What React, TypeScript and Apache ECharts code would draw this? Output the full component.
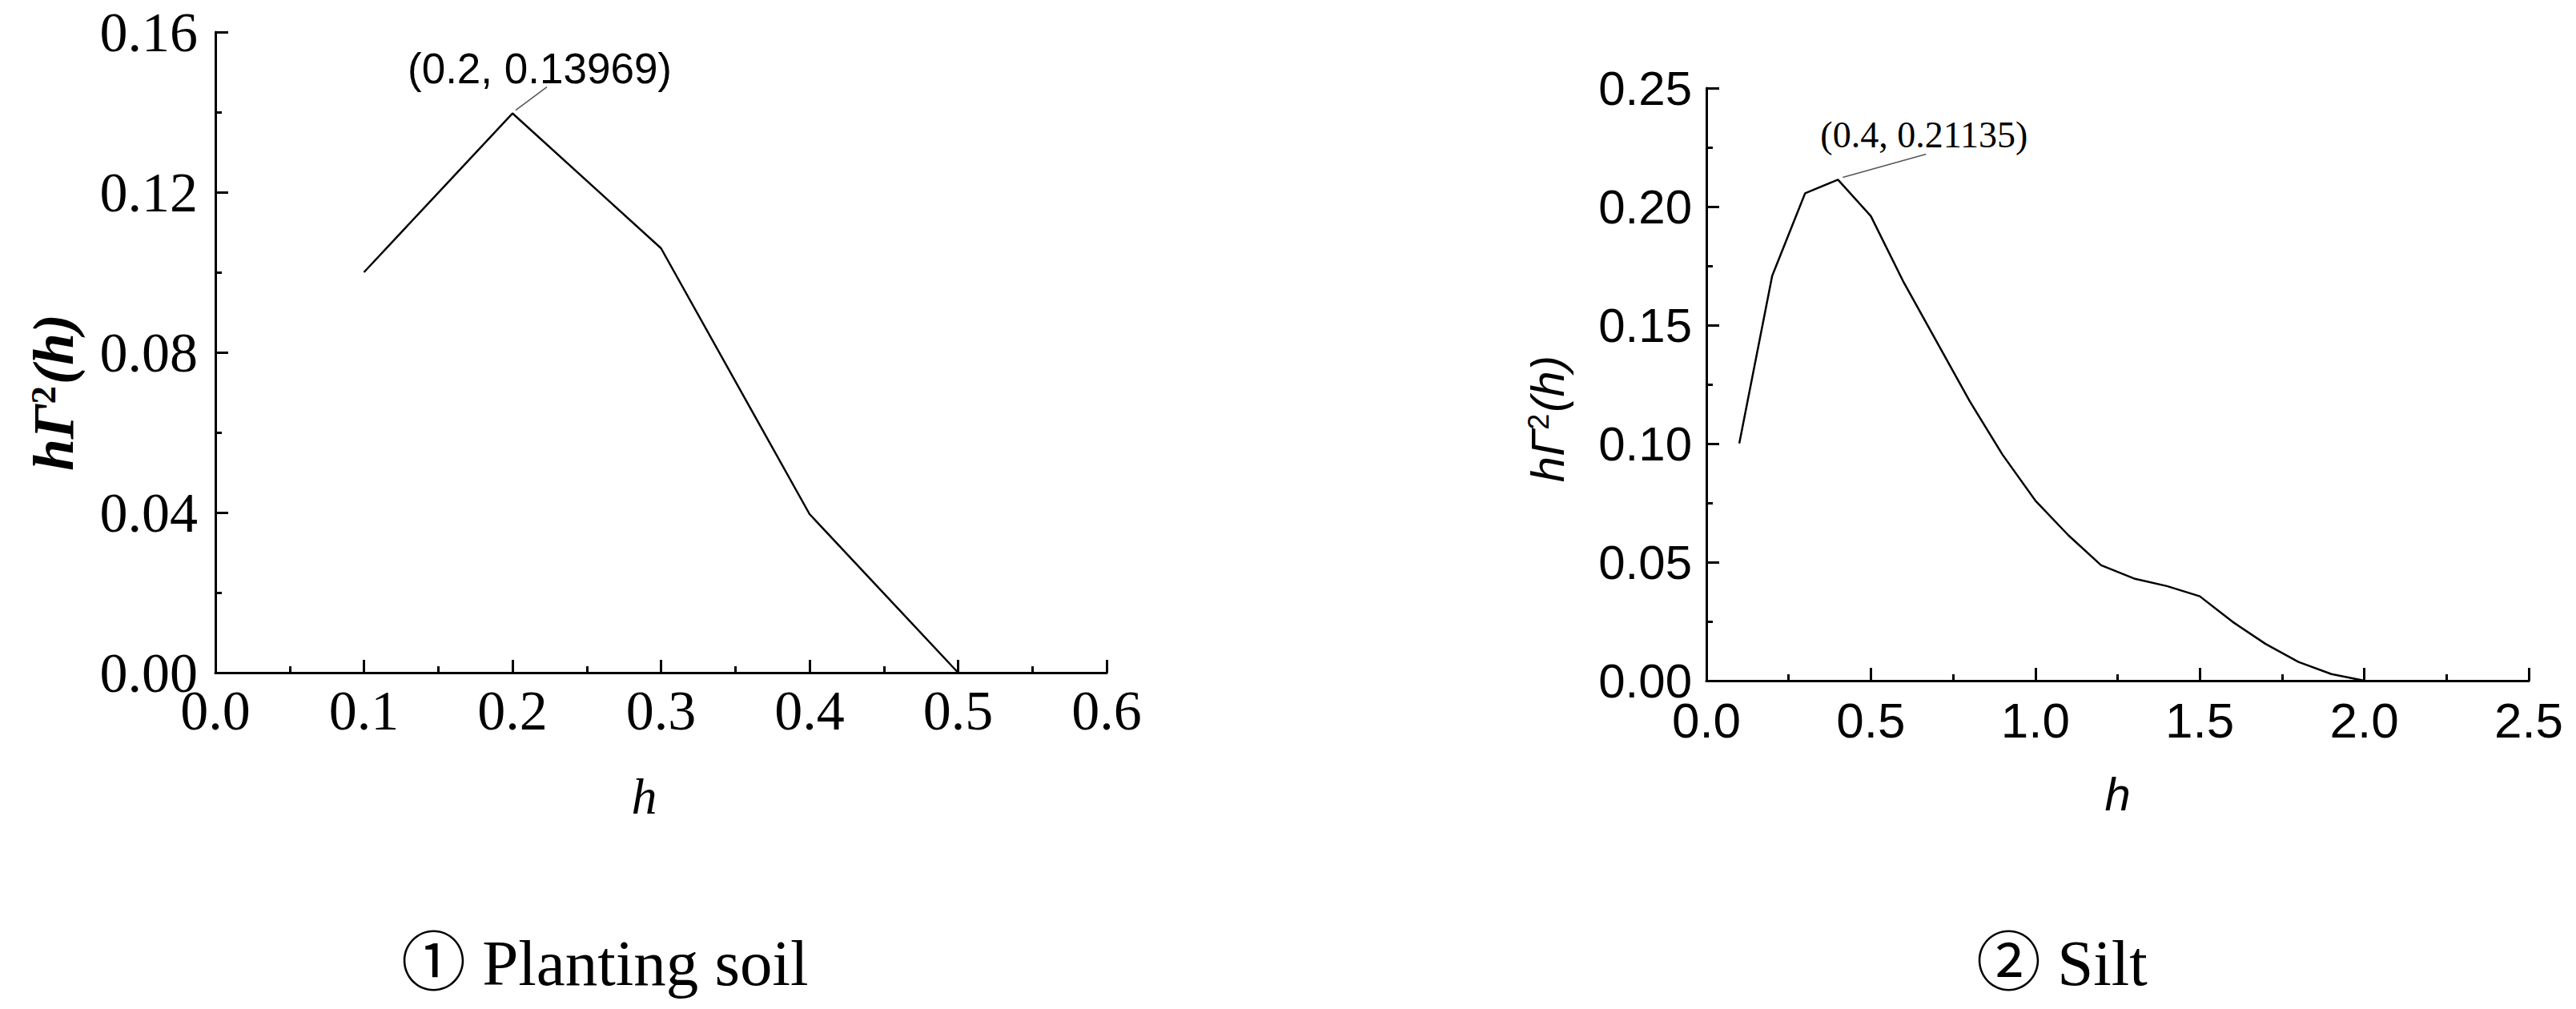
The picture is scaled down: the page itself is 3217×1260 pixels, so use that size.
import React, { useEffect, useRef } from "react";
import * as echarts from "echarts";

// ---- Data ----
const plantingH = [0.1, 0.2, 0.3, 0.4, 0.5];
const plantingVal = [0.1, 0.13969, 0.106, 0.0396, 0.0];
const plantingPeak = [0.2, 0.13969];
const plantingXTicks = [0, 0.6, 0.1];
const plantingYTicks = [0, 0.16, 0.04];

const siltH = [0.1, 0.2, 0.3, 0.4, 0.5, 0.6, 0.7, 0.8, 0.9, 1.0, 1.1, 1.2, 1.3, 1.4, 1.5, 1.6, 1.7, 1.8, 1.9, 2.0];
const siltVal = [0.1001, 0.1708, 0.2056, 0.21135, 0.196, 0.168, 0.143, 0.118, 0.0954, 0.076, 0.0614, 0.0487, 0.0431, 0.0399, 0.0356, 0.0248, 0.0155, 0.0079, 0.0028, 0.0];
const siltPeak = [0.4, 0.21135];
const siltXTicks = [0, 2.5, 0.5];
const siltYTicks = [0, 0.25, 0.05];

const captions = ["\u2460 Planting soil", "\u2461 Silt"];
const peakLabels = ["(0.2, 0.13969)", "(0.4, 0.21135)"];

const SERIF = "'Times New Roman', 'Liberation Serif', serif";
const SANS = "Arial, 'Liberation Sans', sans-serif";
const CAP = "'Palatino Linotype', 'Book Antiqua', Palatino, 'Liberation Serif', 'Noto Sans CJK JP', serif";

function axisCommon() {
  return {
    type: "value",
    axisLine: { show: true, onZero: false, lineStyle: { color: "#000", width: 3 } },
    axisTick: { show: true, inside: true, length: 16, lineStyle: { color: "#000", width: 3 } },
    minorTick: { show: true, splitNumber: 2, length: 8, lineStyle: { color: "#000", width: 3 } },
    splitLine: { show: false },
    minorSplitLine: { show: false },
  };
}

export default function App() {
  const ref = useRef<HTMLDivElement>(null);
  useEffect(() => {
    if (!ref.current) return;
    const chart = echarts.init(ref.current, undefined, { renderer: "svg" });
    const yNameRich = (font: string, weight: string, size: number, shift: number) => ({
      fontFamily: font,
      fontStyle: "italic",
      fontWeight: weight,
      fontSize: size,
      color: "#000",
      padding: [0, shift, 0, 0],
      rich: {
        a: { fontFamily: font, fontStyle: "italic", fontWeight: weight, fontSize: size, lineHeight: size, color: "#000", verticalAlign: "bottom" },
        b: { fontFamily: font, fontStyle: "normal", fontWeight: weight, fontSize: Math.round(size * 0.62), lineHeight: size, color: "#000", verticalAlign: "top", padding: [0, 2, 0, 0] },
      },
    });
    const option: any = {
      animation: false,
      backgroundColor: "#fff",
      grid: [
        { left: 269, top: 40, width: 1113, height: 800 },
        { left: 2131, top: 110, width: 1027, height: 740 },
      ],
      xAxis: [
        {
          ...axisCommon(),
          gridIndex: 0,
          min: plantingXTicks[0],
          max: plantingXTicks[1],
          interval: plantingXTicks[2],
          axisLabel: { color: "#000", fontFamily: SERIF, fontSize: 70, margin: 12, formatter: (v: number) => v.toFixed(1) },
          name: "h",
          nameLocation: "middle",
          nameGap: 122,
          nameTextStyle: { fontFamily: SERIF, fontStyle: "italic", fontSize: 64, color: "#000", padding: [0, 42, 0, 0] },
        },
        {
          ...axisCommon(),
          gridIndex: 1,
          min: siltXTicks[0],
          max: siltXTicks[1],
          interval: siltXTicks[2],
          axisLabel: { color: "#000", fontFamily: SANS, fontSize: 62, lineHeight: 44, margin: 27, formatter: (v: number) => v.toFixed(1) },
          name: "h",
          nameLocation: "middle",
          nameGap: 112,
          nameTextStyle: { fontFamily: SANS, fontStyle: "italic", fontSize: 58, color: "#000" },
        },
      ],
      yAxis: [
        {
          ...axisCommon(),
          gridIndex: 0,
          min: plantingYTicks[0],
          max: plantingYTicks[1],
          interval: plantingYTicks[2],
          axisLabel: { color: "#000", fontFamily: SERIF, fontSize: 70, margin: 22, formatter: (v: number) => v.toFixed(2) },
          name: "{a|h\u0393}{b|2}{a|(h)}",
          nameLocation: "middle",
          nameGap: 166,
          nameTextStyle: yNameRich(SERIF, "bold", 72, 100),
        },
        {
          ...axisCommon(),
          gridIndex: 1,
          min: siltYTicks[0],
          max: siltYTicks[1],
          interval: siltYTicks[2],
          axisLabel: { color: "#000", fontFamily: SANS, fontSize: 60, lineHeight: 44, margin: 18, formatter: (v: number) => v.toFixed(2) },
          name: "{a|h\u0393}{b|2}{a|(h)}",
          nameLocation: "middle",
          nameGap: 170,
          nameTextStyle: yNameRich(SANS, "normal", 58, 86),
        },
      ],
      series: [
        {
          type: "line",
          xAxisIndex: 0,
          yAxisIndex: 0,
          data: plantingH.map((h, i) => [h, plantingVal[i]]),
          symbol: "none",
          lineStyle: { color: "#000", width: 2.5 },
        },
        {
          type: "line",
          xAxisIndex: 1,
          yAxisIndex: 1,
          data: siltH.map((h, i) => [h, siltVal[i]]),
          symbol: "none",
          lineStyle: { color: "#000", width: 2.5 },
        },
      ],
    };
    chart.setOption(option);

    const p1 = chart.convertToPixel({ gridIndex: 0 }, plantingPeak) as number[];
    const p2 = chart.convertToPixel({ gridIndex: 1 }, siltPeak) as number[];
    chart.setOption({
      graphic: [
        {
          type: "line",
          shape: { x1: p1[0] + 4, y1: p1[1] - 4, x2: p1[0] + 43, y2: p1[1] - 33 },
          style: { stroke: "#555", lineWidth: 1.5 },
        },
        {
          type: "text",
          x: p1[0] - 131,
          y: p1[1] - 56,
          style: { text: peakLabels[0], fontFamily: SANS, fontSize: 53, fill: "#000", textAlign: "left", textVerticalAlign: "middle" },
        },
        {
          type: "line",
          shape: { x1: p2[0] + 6, y1: p2[1] - 3, x2: p2[0] + 110, y2: p2[1] - 32 },
          style: { stroke: "#555", lineWidth: 1.5 },
        },
        {
          type: "text",
          x: p2[0] - 22,
          y: p2[1] - 56,
          style: { text: peakLabels[1], fontFamily: SERIF, fontSize: 46, fill: "#000", textAlign: "left", textVerticalAlign: "middle" },
        },
        {
          type: "text",
          x: 501,
          y: 1203,
          style: { text: captions[0], fontFamily: CAP, fontSize: 81, fill: "#000", textAlign: "left", textVerticalAlign: "middle" },
        },
        {
          type: "text",
          x: 2468,
          y: 1203,
          style: { text: captions[1], fontFamily: CAP, fontSize: 81, fill: "#000", textAlign: "left", textVerticalAlign: "middle" },
        },
      ],
    });
    return () => chart.dispose();
  }, []);
  return (
    <div
      ref={ref}
      style={{ position: "fixed", left: 0, top: 0, width: 3217, height: 1260, background: "#fff" }}
    />
  );
}
